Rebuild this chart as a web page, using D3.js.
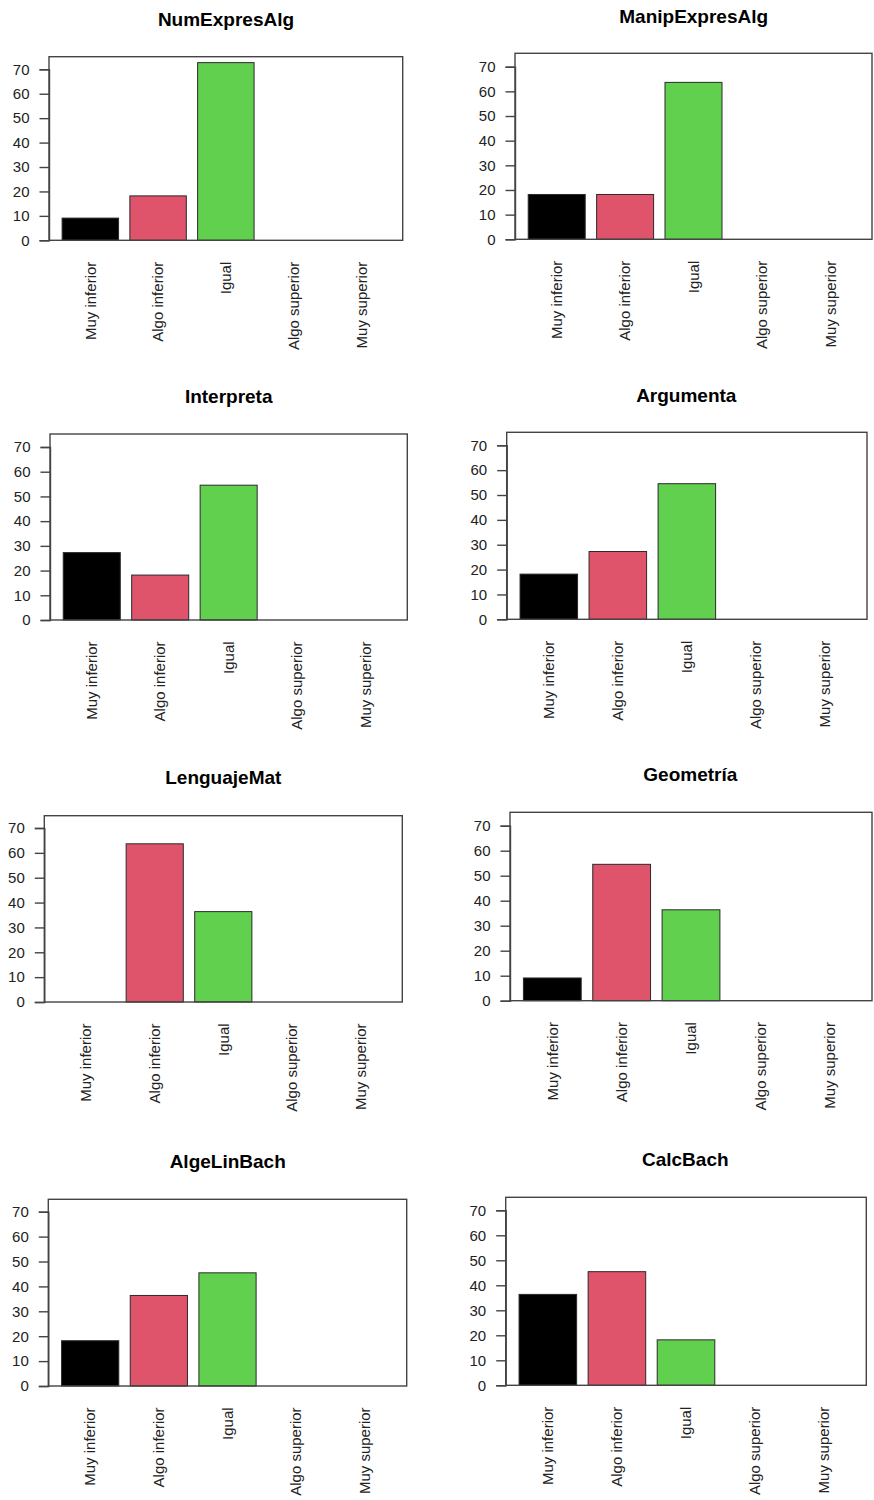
<!DOCTYPE html>
<html>
<head>
<meta charset="utf-8">
<script src="https://cdn.jsdelivr.net/npm/d3@7"></script>
<style>
  html, body { margin: 0; padding: 0; background: #ffffff; }
  svg { display: block; }
</style>
</head>
<body>
<svg id="chart" width="874" height="1500"></svg>
<script>
// Response categories (x axis of every panel)
const categories = ["Muy inferior", "Algo inferior", "Igual", "Algo superior", "Muy superior"];

// Panel titles
const panelTitles = ["NumExpresAlg", "ManipExpresAlg", "Interpreta", "Argumenta",
                     "LenguajeMat", "Geometría", "AlgeLinBach", "CalcBach"];

// Percentages per category, one array per panel
const numExpresAlg   = [9.09, 18.18, 72.73, 0, 0];
const manipExpresAlg = [18.18, 18.18, 63.64, 0, 0];
const interpreta     = [27.27, 18.18, 54.55, 0, 0];
const argumenta      = [18.18, 27.27, 54.55, 0, 0];
const lenguajeMat    = [0, 63.64, 36.36, 0, 0];
const geometria      = [9.09, 54.55, 36.36, 0, 0];
const algeLinBach    = [18.18, 36.36, 45.45, 0, 0];
const calcBach       = [36.36, 45.45, 18.18, 0, 0];

const panelValues = [numExpresAlg, manipExpresAlg, interpreta, argumenta,
                     lenguajeMat, geometria, algeLinBach, calcBach];

// y axis tick values
const yTicks = [0, 10, 20, 30, 40, 50, 60, 70];

// Bar fill colours (R default palette 1..5)
const barColors = ["#000000", "#DF536B", "#61D04F", "#2297E6", "#28E2E5"];

// Plot box geometry of each panel: left, right, top, bottom, y position of 70, title anchor
const panelLayout = [
  { L: 49,    R: 402.7, T: 56.7,   B: 240.3,  y70: 69.3,   tx: 226,   ty: 26 },
  { L: 515,   R: 872,   T: 53.3,   B: 239.3,  y70: 66.7,   tx: 693.7, ty: 23.3 },
  { L: 50,    R: 407.3, T: 434,    B: 620,    y70: 447,    tx: 228.7, ty: 403.3 },
  { L: 506.7, R: 867,   T: 432.3,  B: 619.3,  y70: 445.3,  tx: 686.3, ty: 401.7 },
  { L: 44.3,  R: 402.3, T: 815.7,  B: 1002,   y70: 828,    tx: 223.3, ty: 784 },
  { L: 510,   R: 872,   T: 812.3,  B: 1000.7, y70: 825.7,  tx: 690.3, ty: 781 },
  { L: 48.3,  R: 406.7, T: 1199.3, B: 1386,   y70: 1211.7, tx: 227.7, ty: 1167.7 },
  { L: 505.7, R: 866.3, T: 1197.3, B: 1385.3, y70: 1210.3, tx: 685.3, ty: 1166 }
];

const FONT = "'Liberation Sans', Arial, Helvetica, sans-serif";
const svg = d3.select("#chart");

panelLayout.forEach((lay, p) => {
  const values = panelValues[p];
  const g = svg.append("g");

  // barplot spacing: bar width 1, gap 0.2, range padded 4% on each side
  const x = d3.scaleBand()
    .domain(categories)
    .range([lay.L, lay.R])
    .paddingInner(0.2 / 1.2)
    .paddingOuter(0.232 / 1.2);

  const y = d3.scaleLinear().domain([0, 70]).range([lay.B, lay.y70]);

  // Title
  g.append("text")
    .attr("x", lay.tx)
    .attr("y", lay.ty)
    .attr("text-anchor", "middle")
    .style("font-family", FONT)
    .style("font-weight", "bold")
    .style("font-size", "19px")
    .style("fill", "#000")
    .text(panelTitles[p]);

  // Bars
  g.selectAll("rect.bar")
    .data(values)
    .join("rect")
    .attr("class", "bar")
    .attr("x", (d, i) => x(categories[i]))
    .attr("width", x.bandwidth())
    .attr("y", d => y(d))
    .attr("height", d => y(0) - y(d))
    .attr("fill", (d, i) => barColors[i])
    .attr("stroke", "#2a2a2a")
    .attr("stroke-width", 1);

  // Plot box
  g.append("rect")
    .attr("x", lay.L)
    .attr("y", lay.T)
    .attr("width", lay.R - lay.L)
    .attr("height", lay.B - lay.T)
    .attr("fill", "none")
    .attr("stroke", "#444")
    .attr("stroke-width", 1.4);

  // y axis on the left edge of the box
  const yAxis = d3.axisLeft(y)
    .tickValues(yTicks)
    .tickSize(9.5)
    .tickPadding(10)
    .tickFormat(d3.format("d"));

  const ay = g.append("g")
    .attr("transform", `translate(${lay.L},0)`)
    .call(yAxis);
  ay.select(".domain").attr("stroke", "#444").attr("stroke-width", 1.4);
  ay.selectAll(".tick line").attr("stroke", "#444").attr("stroke-width", 1.4);
  ay.selectAll(".tick text")
    .style("font-family", FONT)
    .style("font-size", "15px")
    .attr("fill", "#222");

  // Rotated category labels under the bars
  const xAxis = d3.axisBottom(x).tickSize(0).tickPadding(0);
  const ax = g.append("g")
    .attr("transform", `translate(0,${lay.B})`)
    .call(xAxis);
  ax.select(".domain").remove();
  ax.selectAll(".tick text")
    .attr("transform", "translate(0,21.4) rotate(-90)")
    .attr("x", 0)
    .attr("y", 0)
    .attr("dy", "0.35em")
    .attr("text-anchor", "end")
    .style("font-family", FONT)
    .style("font-size", "15px")
    .attr("fill", "#222");
});
</script>
</body>
</html>
